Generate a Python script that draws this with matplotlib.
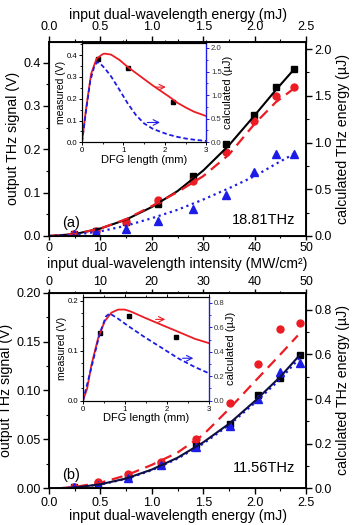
import numpy as np
import matplotlib
matplotlib.use('Agg')
import matplotlib.pyplot as plt
from matplotlib.ticker import MultipleLocator

plt.rcParams['font.family'] = ['Liberation Sans', 'DejaVu Sans']
plt.rcParams['xtick.direction'] = 'out'
plt.rcParams['ytick.direction'] = 'out'

RED = '#ec1c24'
BLUE = '#1c1ce6'
BLACK = 'black'

# ---- panel (a) 18.81 THz: measured points vs intensity (MW/cm2) ----
int_a = [4.8, 9.2, 15.0, 21.3, 28.1, 34.4, 39.9, 44.1, 47.7]
black_a = [0.004, 0.011, 0.033, 0.074, 0.139, 0.213, 0.279, 0.343, 0.384]
red_a = [0.005, 0.012, 0.032, 0.083, 0.127, 0.193, 0.266, 0.323, 0.343]
blue_a = [0.005, 0.009, 0.015, 0.035, 0.062, 0.095, 0.147, 0.188, 0.189]

# calculated curves (uJ) vs intensity
calc_x_a = [0.0, 5.0, 10.0, 15.0, 20.0, 25.0, 30.0, 35.0, 40.0, 44.1, 47.7]
calc_black_a = [0.0, 0.02, 0.08, 0.175, 0.31, 0.48, 0.70, 0.97, 1.29, 1.56, 1.785]
calc_red_a = [0.0, 0.02, 0.08, 0.18, 0.32, 0.47, 0.64, 0.87, 1.20, 1.43, 1.58]
calc_blue_a = [0.0, 0.012, 0.05, 0.11, 0.19, 0.28, 0.39, 0.51, 0.64, 0.77, 0.88]

# inset (a): DFG length (mm)
ins_sq_x_a = [0.39, 1.10, 2.20]
ins_sq_y_a = [0.382, 0.341, 0.183]
ins_red_x_a = [0.0, 0.1, 0.22, 0.35, 0.5, 0.55, 0.7, 0.9, 1.1, 1.3, 1.5, 1.7, 1.9, 2.1, 2.3, 2.5, 2.7, 3.0]
ins_red_y_a = [0.0, 0.72, 1.45, 1.77, 1.87, 1.88, 1.86, 1.75, 1.60, 1.47, 1.34, 1.21, 1.09, 0.97, 0.84, 0.74, 0.65, 0.555]
ins_blue_x_a = [0.0, 0.1, 0.2, 0.3, 0.37, 0.45, 0.55, 0.7, 0.9, 1.1, 1.3, 1.5, 1.7, 1.9, 2.1, 2.3, 2.5, 2.7, 3.0]
ins_blue_y_a = [0.0, 0.68, 1.30, 1.62, 1.70, 1.66, 1.57, 1.40, 1.12, 0.83, 0.58, 0.40, 0.29, 0.22, 0.16, 0.115, 0.08, 0.055, 0.028]

# ---- panel (b) 11.56 THz: measured points vs energy (mJ) ----
en_b = [0.24, 0.48, 0.77, 1.09, 1.43, 1.76, 2.03, 2.25, 2.44]
black_b = [0.001, 0.004, 0.012, 0.025, 0.044, 0.066, 0.095, 0.113, 0.136]
red_b = [0.001, 0.006, 0.015, 0.027, 0.050, 0.087, 0.127, 0.163, 0.169]
blue_b = [0.001, 0.003, 0.011, 0.024, 0.042, 0.064, 0.091, 0.119, 0.128]

calc_x_b = [0.07, 0.25, 0.5, 0.75, 1.0, 1.25, 1.5, 1.75, 2.0, 2.25, 2.44]
calc_black_b = [0.0, 0.003, 0.018, 0.044, 0.084, 0.137, 0.206, 0.289, 0.39, 0.50, 0.598]
calc_blue_b = [0.0, 0.003, 0.017, 0.042, 0.081, 0.133, 0.200, 0.283, 0.382, 0.49, 0.585]
calc_x_red_b = [0.1, 0.25, 0.5, 0.75, 1.0, 1.25, 1.5, 1.75, 2.0, 2.25, 2.42]
calc_red_b = [0.0, 0.006, 0.025, 0.058, 0.105, 0.16, 0.24, 0.355, 0.478, 0.60, 0.685]

ins_sq_x_b = [0.41, 1.11, 2.23]
ins_sq_y_b = [0.136, 0.170, 0.128]
ins_red_x_b = [0.0, 0.1, 0.2, 0.36, 0.52, 0.68, 0.84, 1.0, 1.15, 1.47, 1.87, 2.27, 2.67, 3.0]
ins_red_y_b = [0.0, 0.10, 0.29, 0.51, 0.65, 0.72, 0.745, 0.745, 0.728, 0.679, 0.621, 0.564, 0.506, 0.471]
ins_blue_x_b = [0.0, 0.2, 0.4, 0.55, 0.64, 0.84, 1.07, 1.47, 1.87, 2.27, 2.67, 3.0]
ins_blue_y_b = [0.0, 0.27, 0.55, 0.69, 0.713, 0.67, 0.613, 0.52, 0.434, 0.347, 0.275, 0.225]

fig = plt.figure(figsize=(3.56, 5.25), dpi=100)

LABEL_FS = 10.2
TICK_FS = 9.0


def style_x(ax, maj, mn, pad=2, length=4):
    ax.xaxis.set_major_locator(MultipleLocator(maj))
    ax.xaxis.set_minor_locator(MultipleLocator(mn))
    ax.tick_params(axis='x', which='major', length=length, width=1, labelsize=TICK_FS, pad=pad)
    ax.tick_params(axis='x', which='minor', length=length * 0.55, width=0.8)


def style_y(ax, maj, mn):
    ax.yaxis.set_major_locator(MultipleLocator(maj))
    ax.yaxis.set_minor_locator(MultipleLocator(mn))
    ax.tick_params(axis='y', which='major', length=4, width=1, labelsize=TICK_FS, pad=2)
    ax.tick_params(axis='y', which='minor', length=2.2, width=0.8)
    for s in ax.spines.values():
        s.set_linewidth(1.1)


def make_inset(rect, ylim_l, ylim_r, lmaj, lmin, rmaj, rmin, sqx, sqy, rx, ry, bx, by, arr_r, arr_b):
    ins = fig.add_axes(rect)
    ins.set_zorder(10)
    ins.plot(sqx, sqy, 's', color='black', ms=3.2, zorder=5)
    ins.set_xlim(0, 3)
    ins.set_ylim(*ylim_l)
    ins.xaxis.set_major_locator(MultipleLocator(1))
    ins.xaxis.set_minor_locator(MultipleLocator(0.5))
    ins.yaxis.set_major_locator(MultipleLocator(lmaj))
    ins.yaxis.set_minor_locator(MultipleLocator(lmin))
    ins.tick_params(which='major', length=2.5, width=0.7, labelsize=5.6, pad=1)
    ins.tick_params(which='minor', length=1.5, width=0.6)
    ins.tick_params(axis='x', top=True, which='both')
    ins.set_xlabel('DFG length (mm)', fontsize=8, labelpad=0.5)
    ins.set_ylabel('measured (V)', fontsize=7.5, labelpad=0.5)
    for s in ins.spines.values():
        s.set_linewidth(0.8)
    insr = ins.twinx()
    insr.set_zorder(11)
    insr.plot(rx, ry, '-', color=RED, lw=1.3)
    insr.plot(bx, by, '--', color=BLUE, lw=1.3, dashes=(2.5, 1.5))
    insr.set_ylim(*ylim_r)
    insr.yaxis.set_major_locator(MultipleLocator(rmaj))
    insr.yaxis.set_minor_locator(MultipleLocator(rmin))
    insr.tick_params(which='major', length=2.5, width=0.7, labelsize=5.6, pad=1, color=BLUE, labelcolor='#333333')
    insr.tick_params(which='minor', length=1.5, width=0.6, color=BLUE)
    insr.spines['right'].set_color(BLUE)
    insr.spines['right'].set_linewidth(0.9)
    insr.set_ylabel('calculated (\u00b5J)', fontsize=8, labelpad=1)
    insr.annotate('', xy=(arr_r[1], arr_r[2]), xytext=(arr_r[0], arr_r[2]),
                  arrowprops=dict(arrowstyle='->', color=RED, lw=0.8))
    insr.annotate('', xy=(arr_b[1], arr_b[2]), xytext=(arr_b[0], arr_b[2]),
                  arrowprops=dict(arrowstyle='->', color=BLUE, lw=0.8))
    return ins, insr


# ================= panel (a) =================
axa = fig.add_axes([0.1376, 0.5505, 0.722, 0.370])
axa.plot(int_a, black_a, 's', color=BLACK, ms=5)
axa.plot(int_a, red_a, 'o', color=RED, ms=5)
axa.plot(int_a, blue_a, '^', color=BLUE, ms=5.5)
axa.set_xlim(0, 50)
axa.set_ylim(0, 0.448)
style_x(axa, 10, 5, pad=1, length=3)
style_y(axa, 0.1, 0.05)
# shared intensity label between the two panels
axa.text(0.5, -0.142, 'input dual-wavelength intensity (MW/cm\u00b2)', transform=axa.transAxes,
         fontsize=LABEL_FS, ha='center', va='center')
axa.set_ylabel('output THz signal (V)', fontsize=LABEL_FS, labelpad=2)
axa.text(0.05, 0.045, '(a)', transform=axa.transAxes, fontsize=10.5)
axa.text(0.96, 0.06, '18.81THz', transform=axa.transAxes, fontsize=10.5, ha='right')

axar = axa.twinx()
axar.plot(calc_x_a, calc_black_a, '-', color=BLACK, lw=1.5)
axar.plot(calc_x_a, calc_red_a, '--', color=RED, lw=1.6, dashes=(5, 3))
axar.plot(calc_x_a, calc_blue_a, ':', color=BLUE, lw=1.6)
axar.set_ylim(0, 2.078)
style_y(axar, 0.5, 0.25)
axar.set_ylabel('calculated THz energy (\u00b5J)', fontsize=LABEL_FS, labelpad=3)

axat = axa.twiny()
axat.set_xlim(0, 2.5)
style_x(axat, 0.5, 0.25)
axat.set_xlabel('input dual-wavelength energy (mJ)', fontsize=LABEL_FS, labelpad=2)

make_inset([0.2303, 0.729, 0.349, 0.1886], (0, 0.455), (0, 2.1), 0.1, 0.05, 0.5, 0.25,
           ins_sq_x_a, ins_sq_y_a, ins_red_x_a, ins_red_y_a, ins_blue_x_a, ins_blue_y_a,
           (1.71, 2.09, 1.17), (1.51, 1.95, 0.42))

# ================= panel (b) =================
axb = fig.add_axes([0.1376, 0.0699, 0.722, 0.3726])
axb.plot(en_b, black_b, 's', color=BLACK, ms=5)
axb.plot(en_b, red_b, 'o', color=RED, ms=5)
axb.plot(en_b, blue_b, '^', color=BLUE, ms=5.5)
axb.set_xlim(0, 2.5)
axb.set_ylim(0, 0.20)
style_x(axb, 0.5, 0.25)
style_y(axb, 0.05, 0.025)
axb.set_xlabel('input dual-wavelength energy (mJ)', fontsize=LABEL_FS, labelpad=0)
axb.set_ylabel('output THz signal (V)', fontsize=LABEL_FS, labelpad=2)
axb.text(0.05, 0.045, '(b)', transform=axb.transAxes, fontsize=10.5)
axb.text(0.96, 0.085, '11.56THz', transform=axb.transAxes, fontsize=10.5, ha='right')

axbr = axb.twinx()
axbr.plot(calc_x_red_b, calc_red_b, '--', color=RED, lw=1.6, dashes=(5, 3))
axbr.plot(calc_x_b, calc_blue_b, ':', color=BLUE, lw=1.6)
axbr.plot(calc_x_b, calc_black_b, '-', color='#101040', lw=1.5)
axbr.set_ylim(0, 0.877)
style_y(axbr, 0.2, 0.1)
axbr.set_ylabel('calculated THz energy (\u00b5J)', fontsize=LABEL_FS, labelpad=3)

axbt = axb.twiny()
axbt.set_xlim(0, 50)
style_x(axbt, 10, 5, pad=0.5, length=3)

make_inset([0.2331, 0.2368, 0.353, 0.198], (0, 0.208), (0, 0.85), 0.1, 0.025, 0.2, 0.1,
           ins_sq_x_b, ins_sq_y_b, ins_red_x_b, ins_red_y_b, ins_blue_x_b, ins_blue_y_b,
           (1.67, 2.03, 0.665), (2.31, 2.70, 0.347))

fig.savefig('out.png', dpi=100)
